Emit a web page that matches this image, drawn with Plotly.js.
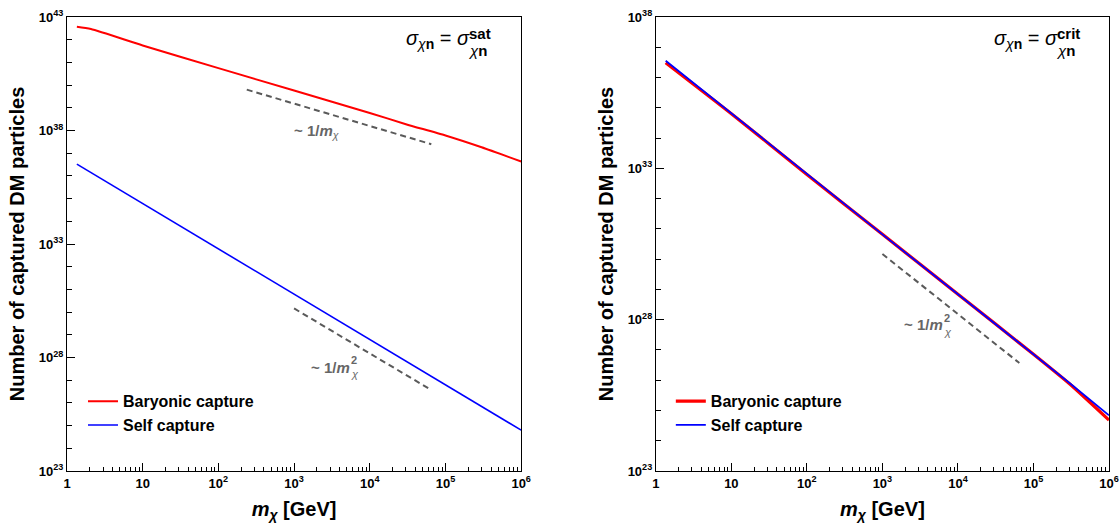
<!DOCTYPE html>
<html><head><meta charset="utf-8">
<script src="https://cdn.plot.ly/plotly-3.0.1.min.js"></script>
<style>html,body{margin:0;padding:0;background:#fff}#chart{width:1120px;height:523px}</style>
</head><body><div id="chart"></div>
<script>
// ---- data ----
const massSat       = [1.35, 2.07, 10, 100, 1000, 1e4, 3e4, 1e5, 3e5, 1e6];
const baryonicSat   = [3.72e42, 2.95e42, 5.6e41, 5.6e40, 5.75e39, 5.9e38, 1.9e38, 6.0e37, 1.82e37, 4.3e36];
const massSelfSat   = [1.35, 10, 100, 1000, 1e4, 1e5, 1e6];
const selfSat       = [3.3e36, 6.0e34, 5.9e32, 6.3e30, 6.3e28, 6.3e26, 6.3e24];

const massCrit      = [1.35, 10, 100, 1000, 1e4, 1e5, 3e5, 1e6];
const baryonicCrit  = [3.1e36, 6.4e34, 6.3e32, 6.6e30, 6.9e28, 7.2e26, 7.6e25, 4.8e24];
const selfCrit      = [3.6e36, 6.5e34, 6.3e32, 6.6e30, 6.9e28, 7.2e26, 8.1e25, 6.9e24];

const guideMassA    = [237, 6.5e4];
const guideValsA    = [6.3e39, 2.5e37];      // ~ 1/m (left)
const guideMassB    = [1000, 6.5e4];
const guideValsB    = [1.45e30, 3.7e26];     // ~ 1/m^2 (left)
const guideValsC    = [1.48e30, 3.7e26];     // ~ 1/m^2 (right)

const seriesNames   = ['Baryonic capture', 'Self capture'];
const xMajor        = [1, 10, 100, 1e3, 1e4, 1e5, 1e6];
const xLabels       = ['1', '10', '10<sup>2</sup>', '10<sup>3</sup>', '10<sup>4</sup>', '10<sup>5</sup>', '10<sup>6</sup>'];
const yMajorLeft    = [1e23, 1e28, 1e33, 1e38, 1e43];
const yLabelsLeft   = ['10<sup>23</sup>', '10<sup>28</sup>', '10<sup>33</sup>', '10<sup>38</sup>', '10<sup>43</sup>'];
const yMajorRight   = [1e23, 1e28, 1e33, 1e38];
const yLabelsRight  = ['10<sup>23</sup>', '10<sup>28</sup>', '10<sup>33</sup>', '10<sup>38</sup>'];

// tick helper positions
const xMinor = [];
for (let e = 0; e < 6; e++) for (let k = 2; k <= 9; k++) xMinor.push(k * Math.pow(10, e));
const yMinorLeft = [], yMinorRight = [];
for (let e = 23; e <= 43; e++) yMinorLeft.push(Math.pow(10, e));
for (let e = 23; e <= 38; e++) yMinorRight.push(Math.pow(10, e));

const FONT = 'Liberation Sans, Arial, Helvetica, sans-serif';
const RED = '#ff0000', BLUE = '#0000ff', GUIDE = '#5a5a5a';

const traces = [
  {x: massSat, y: baryonicSat, name: seriesNames[0], mode: 'lines', line: {color: RED, width: 2, shape: 'spline', smoothing: 0.6}, xaxis: 'x', yaxis: 'y', legend: 'legend'},
  {x: massSelfSat, y: selfSat, name: seriesNames[1], mode: 'lines', line: {color: BLUE, width: 1.6}, xaxis: 'x', yaxis: 'y', legend: 'legend'},
  {x: guideMassA, y: guideValsA, mode: 'lines', line: {color: GUIDE, width: 2, dash: '6px,4px'}, showlegend: false, xaxis: 'x', yaxis: 'y'},
  {x: guideMassB, y: guideValsB, mode: 'lines', line: {color: GUIDE, width: 2, dash: '6px,4px'}, showlegend: false, xaxis: 'x', yaxis: 'y'},
  {x: massCrit, y: baryonicCrit, name: seriesNames[0], mode: 'lines', line: {color: RED, width: 3.2, shape: 'spline', smoothing: 0.6}, xaxis: 'x2', yaxis: 'y2', legend: 'legend2'},
  {x: massCrit, y: selfCrit, name: seriesNames[1], mode: 'lines', line: {color: BLUE, width: 1.8}, xaxis: 'x2', yaxis: 'y2', legend: 'legend2'},
  {x: guideMassB, y: guideValsC, mode: 'lines', line: {color: GUIDE, width: 2, dash: '6px,4px'}, showlegend: false, xaxis: 'x2', yaxis: 'y2'}
];

function xAxis(domain, anchor) {
  return {
    type: 'log', domain: domain, anchor: anchor, range: [0, 6],
    tickmode: 'array', tickvals: xMajor, ticktext: xLabels,
    ticks: 'inside', ticklen: 8, tickwidth: 1, tickcolor: '#000',
    showline: true, linecolor: '#000', linewidth: 1, mirror: true,
    showgrid: false, zeroline: false,
    tickfont: {family: FONT, size: 13, color: '#000', weight: 'bold'},
    minor: {tickmode: 'array', tickvals: xMinor, ticks: 'inside', ticklen: 4, tickwidth: 1, tickcolor: '#000', showgrid: false},
    title: {text: '<i>m</i><sub><i>χ</i></sub> [GeV]', font: {family: FONT, size: 20, color: '#000', weight: 'bold'}, standoff: 12}
  };
}
function yAxis(anchor, range, vals, labels, minor) {
  return {
    type: 'log', anchor: anchor, domain: [0, 1], range: range,
    tickmode: 'array', tickvals: vals, ticktext: labels,
    ticks: 'inside', ticklen: 8, tickwidth: 1, tickcolor: '#000',
    showline: true, linecolor: '#000', linewidth: 1, mirror: true,
    showgrid: false, zeroline: false,
    tickfont: {family: FONT, size: 13, color: '#000', weight: 'bold'},
    minor: {tickmode: 'array', tickvals: minor, ticks: 'inside', ticklen: 5, tickwidth: 1, tickcolor: '#000', showgrid: false},
    title: {text: 'Number of captured DM particles', font: {family: FONT, size: 20, color: '#000', weight: 'bold'}, standoff: 8}
  };
}

function sigmaAnnots(xa, ya, supText) {
  const xd = xa + ' domain', yd = ya + ' domain';
  return [
    {xref: xd, yref: yd, x: 1, y: 1, xanchor: 'right', yanchor: 'middle', xshift: -49, yshift: -22,
     text: '<i>σ</i><sub><i>χ</i><b>n</b></sub> = <i>σ</i>', showarrow: false,
     font: {family: FONT, size: 20, color: '#000'}},
    {xref: xd, yref: yd, x: 1, y: 1, xanchor: 'left', yanchor: 'middle', xshift: -55, yshift: -33,
     text: '<i>χ</i><b>n</b>', showarrow: false, font: {family: FONT, size: 15, color: '#000'}},
    {xref: xd, yref: yd, x: 1, y: 1, xanchor: 'left', yanchor: 'middle', xshift: -54, yshift: -16,
     text: '<b>' + supText + '</b>', showarrow: false, font: {family: FONT, size: 15, color: '#000'}}
  ];
}

function slopeAnnots(xa, ya, lx, ly) {
  const f = {family: FONT, size: 15, color: '#666666'};
  const fs = {family: FONT, size: 11, color: '#666666'};
  return [
    {xref: xa, yref: ya, x: lx, y: ly, xanchor: 'right', yanchor: 'middle', xshift: 2,
     text: '<b>~ 1/<i>m</i></b>', showarrow: false, font: f},
    {xref: xa, yref: ya, x: lx, y: ly, xanchor: 'left', yanchor: 'middle', xshift: -1, yshift: 7,
     text: '<b>2</b>', showarrow: false, font: fs},
    {xref: xa, yref: ya, x: lx, y: ly, xanchor: 'left', yanchor: 'middle', xshift: -1, yshift: -7,
     text: '<i>χ</i>', showarrow: false, font: fs}
  ];
}

const annotations = [].concat(
  sigmaAnnots('x', 'y', 'sat'),
  sigmaAnnots('x2', 'y2', 'crit'),
  [{xref: 'x', yref: 'y', x: 3.30, y: 37.94, text: '<b>~ 1/<i>m</i></b><sub><i>χ</i></sub>', showarrow: false,
    font: {family: FONT, size: 15, color: '#666666'}}],
  slopeAnnots('x', 'y', 3.742, 27.58),
  slopeAnnots('x2', 'y2', 3.805, 27.84)
);

const legendBase = {
  font: {family: FONT, size: 16, color: '#000', weight: 'bold'},
  bgcolor: 'rgba(0,0,0,0)', borderwidth: 0, xanchor: 'left', yanchor: 'top',
  itemwidth: 30, tracegroupgap: 0
};

const L = 66.7, R = 11, T = 17, B = 52.3, W = 1120 - L - R, H = 523 - T - B;
const layout = {
  width: 1120, height: 523,
  margin: {l: L, r: R, t: T, b: B, pad: 0},
  paper_bgcolor: '#fff', plot_bgcolor: '#fff',
  showlegend: true,
  font: {family: FONT, color: '#000'},
  xaxis: xAxis([0, (521 - L) / W], 'y'),
  yaxis: yAxis('x', [23, 43], yMajorLeft, yLabelsLeft, yMinorLeft),
  xaxis2: xAxis([(655.7 - L) / W, 1], 'y2'),
  yaxis2: yAxis('x2', [23, 38], yMajorRight, yLabelsRight, yMinorRight),
  legend: Object.assign({}, legendBase, {x: (82.7 - L) / W, y: 1 - (384 - T) / H}),
  legend2: Object.assign({}, legendBase, {x: (670.7 - L) / W, y: 1 - (384 - T) / H}),
  annotations: annotations
};

Plotly.newPlot('chart', traces, layout, {staticPlot: true, displayModeBar: false});
</script>
</body></html>
